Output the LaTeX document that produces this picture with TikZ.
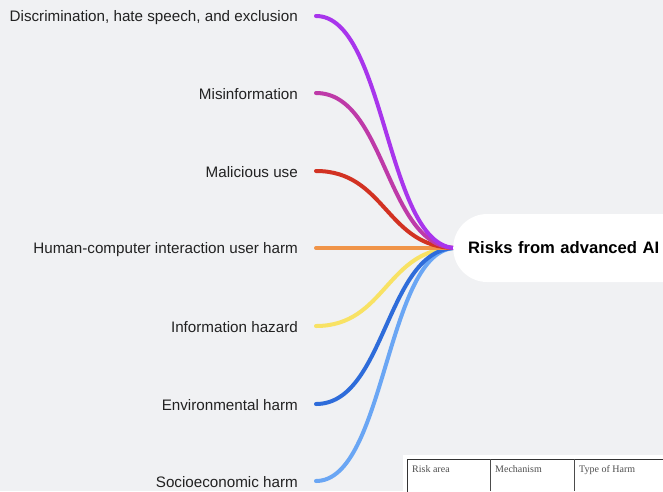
\documentclass[tikz,border=0pt]{standalone}
\usepackage{fontspec}
\setmainfont{Liberation Sans}
\newfontfamily\tablefont{Liberation Serif}
\definecolor{bgcol}{HTML}{F0F1F3}
\definecolor{labcol}{HTML}{222222}
\definecolor{cpurple}{HTML}{A835EC}
\definecolor{cmagenta}{HTML}{BE3AA8}
\definecolor{cred}{HTML}{D23222}
\definecolor{corange}{HTML}{F09448}
\definecolor{cyellow}{HTML}{F8E264}
\definecolor{cblue}{HTML}{2E6CDA}
\definecolor{clight}{HTML}{6AA6F4}
\begin{document}
\begin{tikzpicture}[x=1pt,y=-1pt]

     \tikzstyle{risk}=[anchor=east,inner sep=0pt,text=labcol,yshift=-1.5pt,font=\fontsize{15.2}{17}\selectfont]
     \tikzstyle{link}=[line width=4pt,line cap=round]
     \tikzstyle{cell}=[anchor=north west,inner sep=0pt,text=labcol!80,font=\tablefont\fontsize{10}{12}\selectfont]

      \useasboundingbox (0,0) rectangle (663,491);
      \clip (0,0) rectangle (663,491);
      \fill[bgcol] (0,0) rectangle (663,491);

      \begin{scope}
         % risk areas
         \node[risk] (r1) at (298,16)  {Discrimination, hate speech, and exclusion};
         \node[risk] (r2) at (298,93)  {Misinformation};
         \node[risk] (r3) at (298,171) {Malicious use};
         \node[risk] (r4) at (298,248) {Human-computer interaction user harm};
         \node[risk] (r5) at (298,326) {Information hazard};
         \node[risk] (r6) at (298,404) {Environmental harm};
         \node[risk] (r7) at (298,481) {Socioeconomic harm};

         \coordinate (s1) at (316,16);
         \coordinate (s2) at (316,93);
         \coordinate (s3) at (316,171);
         \coordinate (s4) at (316,248);
         \coordinate (s5) at (316,326);
         \coordinate (s6) at (316,404);
         \coordinate (s7) at (316,481);
         \coordinate (hub) at (456,248);

         \draw[link,cyellow] (s5) .. controls +(70,0) and +(-70,0) .. (hub);
         \draw[link,clight] (s7) .. controls +(70,0) and +(-70,0) .. (hub);
         \draw[link,cblue] (s6) .. controls +(70,0) and +(-70,0) .. (hub);
         \draw[link,corange] (s4) -- (hub);
         \draw[link,cred] (s3) .. controls +(70,0) and +(-70,0) .. (hub);
         \draw[link,cmagenta] (s2) .. controls +(70,0) and +(-70,0) .. (hub);
         \draw[link,cpurple] (s1) .. controls +(70,0) and +(-70,0) .. (hub);

         % central topic
         \node[fill=white,rounded corners=34pt,anchor=west,minimum height=68pt,
               text width=240pt,align=left,inner xsep=15pt,
               font=\bfseries\fontsize{16.6}{19}\selectfont] (ai) at (453,248) {Risks from advanced AI};

         % table fragment
         \fill[white] (403,455) rectangle (663,491);
         \draw[black!80,line width=0.8pt] (407,459) rectangle (670,500);
         \draw[black!70,line width=0.8pt] (490,459) -- (490,491);
         \draw[black!70,line width=0.8pt] (574,459) -- (574,491);
         \node[cell] (c1) at (412,465) {Risk area};
         \node[cell] (c2) at (495,465) {Mechanism};
         \node[cell] (c3) at (579,465) {Type of Harm};
      \end{scope}
\end{tikzpicture}
\end{document}
